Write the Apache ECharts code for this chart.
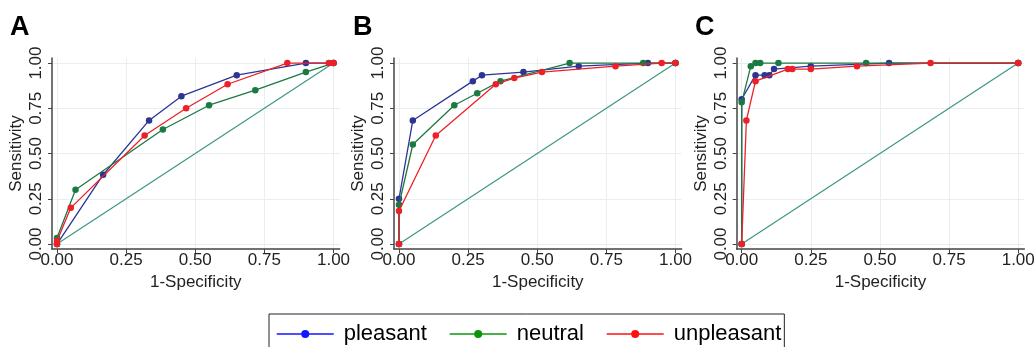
<!DOCTYPE html>
<html>
<head>
<meta charset="utf-8">
<script src="https://cdn.jsdelivr.net/npm/echarts@6/dist/echarts.min.js"></script>
<style>
html,body{margin:0;padding:0;background:#fff;}
#chart{width:1036px;height:347px;}
</style>
</head>
<body>
<div id="chart"></div>
<script>
// ---- data (1-Specificity, Sensitivity) ----
const panelTitles = ['A', 'B', 'C'];
const seriesNames = ['pleasant', 'neutral', 'unpleasant'];
const tickValues = [0, 0.25, 0.5, 0.75, 1];
const xAxisName = '1-Specificity';
const yAxisName = 'Sensitivity';

const pleasantA = [[0,0],[0.167,0.383],[0.333,0.683],[0.45,0.817],[0.65,0.933],[0.9,1],[1,1]];
const neutralA = [[0,0],[0,0.033],[0.067,0.3],[0.383,0.633],[0.55,0.767],[0.717,0.85],[0.9,0.95],[1,1]];
const unpleasantA = [[0,0],[0,0.017],[0.05,0.2],[0.317,0.6],[0.467,0.75],[0.617,0.883],[0.833,1],[0.983,1],[1,1]];

const pleasantB = [[0,0],[0,0.25],[0.05,0.683],[0.267,0.9],[0.3,0.933],[0.45,0.95],[0.65,0.983],[0.9,1],[1,1]];
const neutralB = [[0,0],[0,0.217],[0.05,0.55],[0.2,0.767],[0.283,0.833],[0.367,0.9],[0.617,1],[0.883,1],[1,1]];
const unpleasantB = [[0,0],[0,0.183],[0.133,0.6],[0.35,0.883],[0.417,0.917],[0.517,0.95],[0.783,0.983],[0.95,1],[1,1]];

const pleasantC = [[0,0],[0,0.8],[0.05,0.933],[0.083,0.933],[0.1,0.933],[0.117,0.967],[0.25,0.983],[0.533,1],[1,1]];
const neutralC = [[0,0],[0,0.783],[0.033,0.983],[0.05,1],[0.067,1],[0.133,1],[0.45,1],[1,1]];
const unpleasantC = [[0,0],[0.017,0.683],[0.05,0.9],[0.167,0.967],[0.183,0.967],[0.25,0.967],[0.417,0.983],[0.683,1],[1,1]];

const reference = [[0,0],[1,1]];

const panelData = [
  [pleasantA, neutralA, unpleasantA],
  [pleasantB, neutralB, unpleasantB],
  [pleasantC, neutralC, unpleasantC]
];

// ---- styles ----
const lineColors = ['#2d3594', '#1b7a42', '#ec2128'];
const legendColors = ['#1414ff', '#0a960a', '#ff1010'];
const diagColor = '#3d9686';
const FONT = 'Liberation Sans';
const gridLefts = [52, 394, 736.7];

const chart = echarts.init(document.getElementById('chart'), null, {renderer: 'canvas'});

const grids = [], xAxes = [], yAxes = [], series = [], titles = [];
gridLefts.forEach((left, i) => {
  grids.push({left: left, top: 58, width: 287.6, height: 191.1, containLabel: false, outerBoundsMode: 'none'});
  titles.push({
    text: panelTitles[i], left: [10, 353, 695][i], top: 13.8, padding: 0,
    textStyle: {fontFamily: FONT, fontWeight: 'bold', fontSize: 27, color: '#000'}
  });
  const axisCommon = {
    type: 'value',
    gridIndex: i,
    splitLine: {show: true, lineStyle: {color: '#e9eff1', width: 1}},
    axisLine: {show: true, onZero: false, lineStyle: {color: '#444', width: 1.5}},
    axisTick: {show: true, inside: false, length: 4, customValues: tickValues, lineStyle: {color: '#444', width: 1}},
    axisLabel: {
      customValues: tickValues,
      formatter: v => v.toFixed(2),
      fontFamily: FONT, fontSize: 17, color: '#222'
    },
    nameLocation: 'middle',
    nameTextStyle: {fontFamily: FONT, fontSize: 17, color: '#222'}
  };
  xAxes.push(Object.assign({}, axisCommon, {
    min: -0.018, max: 1.022, name: xAxisName, nameGap: 16,
    axisLabel: Object.assign({}, axisCommon.axisLabel, {margin: 3})
  }));
  yAxes.push(Object.assign({}, axisCommon, {
    min: -0.028, max: 1.028, name: yAxisName, nameGap: 27,
    axisLabel: Object.assign({}, axisCommon.axisLabel, {margin: 7, rotate: 90})
  }));
  series.push({
    type: 'line', name: 'diag', xAxisIndex: i, yAxisIndex: i, data: reference,
    showSymbol: false, symbol: 'none', silent: true,
    lineStyle: {color: diagColor, width: 1.2}, z: 1
  });
  panelData[i].forEach((d, k) => {
    series.push({
      type: 'line', name: seriesNames[k], xAxisIndex: i, yAxisIndex: i, data: d,
      symbol: 'circle', symbolSize: 6.5, showSymbol: true,
      itemStyle: {color: lineColors[k]},
      lineStyle: {color: lineColors[k], width: 1.3},
      z: 2 + k, animation: false
    });
  });
});

const option = {
  animation: false,
  backgroundColor: '#fff',
  title: titles,
  grid: grids,
  xAxis: xAxes,
  yAxis: yAxes,
  series: series,
  legend: {
    left: 269, top: 314,
    padding: [9, 3, 9, 7],
    borderColor: '#222', borderWidth: 1, backgroundColor: '#fff',
    itemWidth: 57, itemHeight: 10, itemGap: 22,
    textStyle: {fontFamily: FONT, fontSize: 22, color: '#000', padding: [0, 0, 0, 5]},
    data: seriesNames.map((n, k) => ({
      name: n,
      itemStyle: {color: legendColors[k]},
      lineStyle: {color: legendColors[k], width: 1.5}
    }))
  }
};
chart.setOption(option);
</script>
</body>
</html>
